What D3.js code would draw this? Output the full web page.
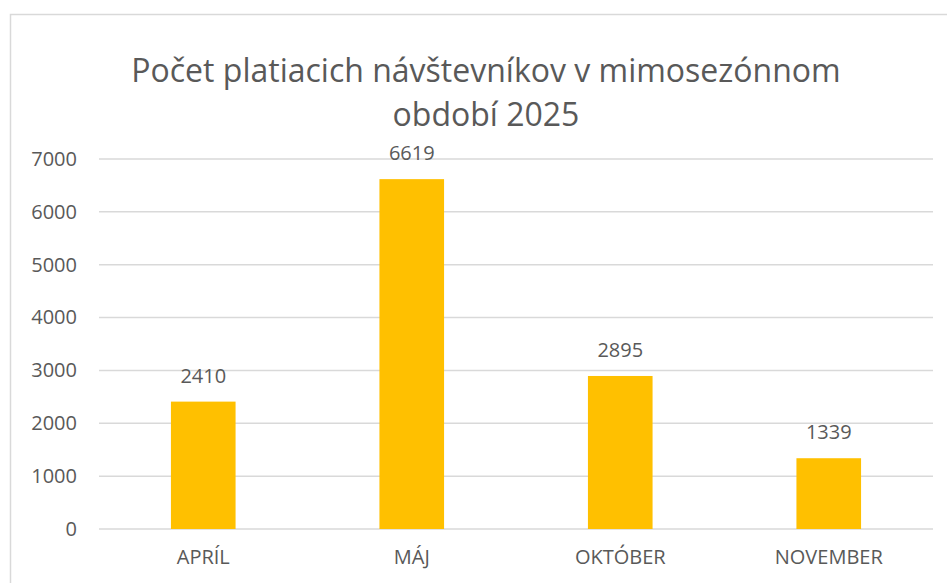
<!DOCTYPE html>
<html>
<head>
<meta charset="utf-8">
<script src="https://cdn.jsdelivr.net/npm/d3@7"></script>
<style>
  body { margin: 0; background: #fff; }
  svg { display: block; font-family: "Open Sans", sans-serif; }
</style>
</head>
<body>
<svg id="chart" width="947" height="583"></svg>
<script>
// data
const months = ["APRÍL", "MÁJ", "OKTÓBER", "NOVEMBER"];
const visitors = [2410, 6619, 2895, 1339];
const yTicks = [0, 1000, 2000, 3000, 4000, 5000, 6000, 7000];
const titleLines = ["Počet platiacich návštevníkov v mimosezónnom", "období 2025"];

const svg = d3.select("#chart");
const textColor = "#595959";

// chart frame (only top/left visible in the crop)
svg.append("rect")
  .attr("x", 10.5).attr("y", 14.5)
  .attr("width", 1000).attr("height", 700)
  .attr("fill", "none")
  .attr("stroke", "#d9d9d9")
  .attr("stroke-width", 1.5);

const x = d3.scaleBand().domain(months).range([99, 933]).paddingInner(0.69).paddingOuter(0.345);
const y = d3.scaleLinear().domain([0, 7000]).range([529, 159]);

// gridlines
svg.append("g")
  .selectAll("line")
  .data(yTicks)
  .join("line")
  .attr("x1", 99).attr("x2", 933)
  .attr("y1", d => y(d)).attr("y2", d => y(d))
  .attr("stroke", "#d9d9d9")
  .attr("stroke-width", 1.5);

// y axis labels
const yAxis = d3.axisLeft(y).tickValues(yTicks).tickSize(0).tickPadding(0).tickFormat(d3.format("d"));
svg.append("g")
  .attr("transform", "translate(77,0)")
  .call(yAxis)
  .call(g => g.select(".domain").remove())
  .call(g => g.selectAll("text")
    .attr("fill", textColor)
    .attr("font-size", 20)
    .attr("font-family", "Open Sans"));

// bars
svg.append("g")
  .selectAll("rect")
  .data(visitors)
  .join("rect")
  .attr("x", (d, i) => x(months[i]))
  .attr("width", x.bandwidth())
  .attr("y", d => y(d))
  .attr("height", d => y(0) - y(d))
  .attr("fill", "#ffc000");

// value labels
svg.append("g")
  .selectAll("text")
  .data(visitors)
  .join("text")
  .attr("x", (d, i) => x(months[i]) + x.bandwidth() / 2)
  .attr("y", d => y(d) - 19)
  .attr("text-anchor", "middle")
  .attr("fill", textColor)
  .attr("font-size", 20)
  .text(d => d);

// x axis labels
const xAxis = d3.axisBottom(x).tickSize(0).tickPadding(0);
svg.append("g")
  .attr("transform", "translate(0,550)")
  .call(xAxis)
  .call(g => g.select(".domain").remove())
  .call(g => g.selectAll("text")
    .attr("fill", textColor)
    .attr("font-size", 20)
    .attr("font-family", "Open Sans")
    .attr("dy", "0.71em"));

// title
svg.append("g")
  .selectAll("text")
  .data(titleLines)
  .join("text")
  .attr("x", 486)
  .attr("y", (d, i) => 82 + i * 44)
  .attr("text-anchor", "middle")
  .attr("fill", textColor)
  .attr("font-size", 32)
  .text(d => d);
</script>
</body>
</html>
